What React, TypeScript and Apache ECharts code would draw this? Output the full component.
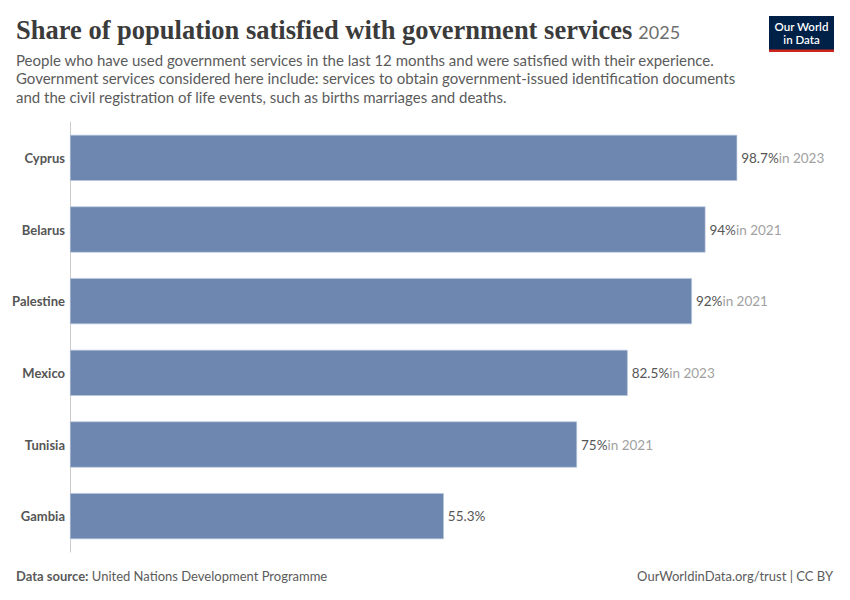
import React, { useEffect, useRef } from "react";
import * as echarts from "echarts";

const countries = ["Cyprus", "Belarus", "Palestine", "Mexico", "Tunisia", "Gambia"];
const values = [98.7, 94, 92, 82.5, 75, 55.3];
const years = ["2023", "2021", "2021", "2023", "2021", ""];

const TITLE = "Share of population satisfied with government services";
const SUBTITLE_LINES = [
  "People who have used government services in the last 12 months and were satisfied with their experience.",
  "Government services considered here include: services to obtain government-issued identification documents",
  "and the civil registration of life events, such as births marriages and deaths.",
];

export default function App() {
  const ref = useRef<HTMLDivElement>(null);
  useEffect(() => {
    if (!ref.current) return;
    const chart = echarts.init(ref.current, null, { renderer: "svg" });
    const cats = [...countries].reverse();
    const revYears = [...years].reverse();
    const data = [...values].reverse().map((v, i) => ({ value: v, year: revYears[i] }));
    chart.setOption({
      animation: false,
      backgroundColor: "#ffffff",
      grid: { left: 70, top: 122, width: 676, height: 430, containLabel: false },
      xAxis: {
        type: "value",
        min: 0,
        max: 100,
        show: false,
      },
      yAxis: {
        type: "category",
        data: cats,
        axisLine: { show: true, lineStyle: { color: "#cccccc", width: 1 } },
        axisTick: { show: false },
        axisLabel: {
          fontFamily: "Lato",
          fontSize: 13,
          fontWeight: "bold",
          color: "#555555",
          margin: 5,
        },
      },
      series: [
        {
          type: "bar",
          data,
          barWidth: 46,
          itemStyle: { color: "#6e87b0", borderColor: "#b8c6dc", borderWidth: 0.6 },
          label: {
            show: true,
            position: "right",
            distance: 4,
            formatter: (p: any) =>
              p.data.year ? `{v|${p.value}%}{y|in ${p.data.year}}` : `{v|${p.value}%}`,
            rich: {
              v: { fontFamily: "Lato", fontSize: 13.5, color: "#555555" },
              y: { fontFamily: "Lato", fontSize: 13.5, color: "#a1a1a1" },
            },
          },
        },
      ],
      graphic: [
        {
          type: "text",
          left: 16,
          top: 16,
          style: {
            rich: {
              t: {
                font: "600 26.5px 'Liberation Serif', 'DejaVu Serif', serif",
                fill: "#3b3b3b",
              },
              y: { font: "18px Lato", fill: "#6e6e6e", padding: [4, 0, 0, 6] },
            },
            text: `{t|${TITLE}}{y|2025}`,
          },
        },
        ...SUBTITLE_LINES.map((t, i) => ({
          type: "text",
          left: 16,
          top: 52 + i * 18.5,
          style: { text: t, font: "15px Lato", fill: "#5b5b5b" },
        })),
        {
          type: "rect",
          shape: { x: 769, y: 16, width: 65, height: 36 },
          style: { fill: "#002147" },
        },
        {
          type: "rect",
          shape: { x: 769, y: 49.5, width: 65, height: 2.5 },
          style: { fill: "#ce261e" },
        },
        {
          type: "text",
          x: 801.5,
          y: 20,
          style: {
            text: "Our World\nin Data",
            font: "600 11.5px Lato",
            fill: "#ffffff",
            align: "center",
            lineHeight: 13,
          },
        },
        {
          type: "text",
          left: 16,
          top: 569,
          style: {
            rich: {
              b: { font: "bold 13px Lato", fill: "#5b5b5b" },
              n: { font: "13px Lato", fill: "#5b5b5b" },
            },
            text: "{b|Data source:} {n|United Nations Development Programme}",
          },
        },
        {
          type: "text",
          right: 17,
          top: 569,
          style: { text: "OurWorldinData.org/trust | CC BY", font: "13px Lato", fill: "#5b5b5b" },
        },
      ],
    });
    return () => chart.dispose();
  }, []);
  return (
    <div
      ref={ref}
      style={{ position: "fixed", left: 0, top: 0, width: 850, height: 600 }}
    />
  );
}
